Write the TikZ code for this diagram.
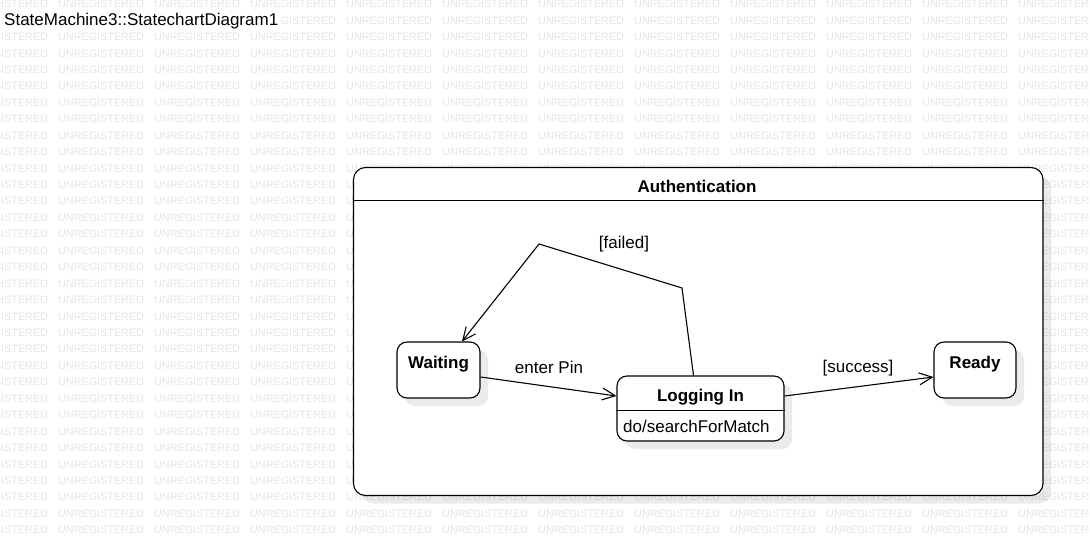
\documentclass[tikz,border=0pt]{standalone}
\usepackage{fontspec}
\setmainfont{Liberation Sans}
\usetikzlibrary{arrows.meta,positioning,shadows}
\tikzset{
    >={Straight Barb[length=13pt,width=12pt]},
    state/.style={
      rectangle, 
      rounded corners=10pt, 
      draw=black, line width=1.1pt,
      fill=white,
      drop shadow={shadow xshift=8pt, shadow yshift=-8pt, fill=black, opacity=.08},
      font=\fontsize{17}{20}\selectfont\bfseries,
      inner sep=0pt},
    trans/.style={draw, line width=1.1pt, ->},
    lbl/.style={font=\fontsize{17}{20}\selectfont, inner sep=0pt, anchor=base},
    stamp/.style={font=\fontsize{10.8}{12}\selectfont, text=black!10, inner sep=0pt, anchor=west},
}
\begin{document}
\begin{tikzpicture}
      [x=1pt, y=-1pt]
      \useasboundingbox (0,0) rectangle (1090,540);
      \foreach \r in {0,...,32}
        \foreach \c in {-1,...,10}{
          \pgfmathsetmacro\wx{58+96*\c}
          \pgfmathsetmacro\wy{4+16.44*\r}
          \pgfmathparse{((\wx>356) && (\wx+87<1041) && (\wy>174) && (\wy<490)) || ((\wy>10) && (\wy<32) && (\wx+87<280)) ? 0 : 1}
          \ifdim\pgfmathresult pt>0.5pt
            \node[stamp] (wm-\r-\c) at (\wx,\wy) {UNREGISTERED};
          \fi
        }
      \node[lbl, anchor=base west, fill=white, inner sep=2pt] (title) at (2,26) {StateMachine3::StatechartDiagram1};
      \node[state, rounded corners=12pt, minimum width=689.5pt, minimum height=328pt] (auth) at (698.25,331.5) {};
      \node[lbl, font=\fontsize{17}{20}\selectfont\bfseries] (authname) at (697,193) {Authentication};
      \draw[line width=1.1pt] ([yshift=-34pt]auth.north west) -- ([yshift=-34pt]auth.north east);
      \node[state, minimum width=83pt, text height=26pt, text depth=30pt] (wt) at (438.5,370) {Waiting};
      \node[state, minimum width=167pt, text height=25pt, text depth=40pt] (lg) at (700.5,408.5) {Logging In};
      \draw[line width=1.1pt] ([yshift=-2pt]lg.west) -- ([yshift=-2pt]lg.east);
      \node[lbl, anchor=base west] (lgdo) at (623,432) {do/searchForMatch};
      \node[state, minimum width=82pt, text height=26pt, text depth=30pt] (rd) at (975,370) {Ready};
      \draw[trans] ([yshift=-7pt]wt.east) -- ([yshift=12.5pt]lg.west);
      \draw[trans] ([yshift=12.5pt]lg.east) -- ([yshift=-7pt]rd.west);
      \draw[trans] ([xshift=-7pt]lg.north) -- (682,288) -- (539,244) -- ([xshift=23.5pt]wt.north);
      \node[lbl] (enterpin) at (549,373) {enter Pin};
      \node[lbl] (success) at (858,372) {[success]};
      \node[lbl] (failed) at (624,249) {[failed]};
\end{tikzpicture}
\end{document}
